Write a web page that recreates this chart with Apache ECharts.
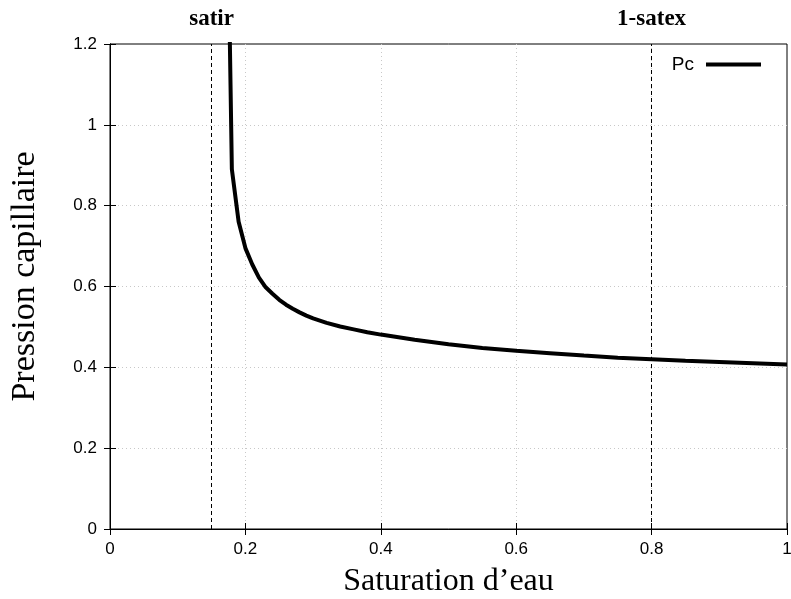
<!DOCTYPE html>
<html>
<head>
<meta charset="utf-8">
<script src="https://cdn.jsdelivr.net/npm/echarts@6/dist/echarts.min.js"></script>
<style>
  html, body { margin: 0; padding: 0; background: #fff; }
  #chart { width: 791px; height: 599px; }
</style>
</head>
<body>
<div id="chart"></div>
<script>
// Water saturation samples and capillary pressure
const saturation = [0.17, 0.18, 0.19, 0.20, 0.21, 0.22, 0.23, 0.24, 0.25, 0.26, 0.27, 0.28, 0.29, 0.30,
  0.32, 0.34, 0.36, 0.38, 0.40, 0.45, 0.50, 0.55, 0.60, 0.65, 0.70, 0.75, 0.80, 0.85, 0.90, 0.95, 1.00];
const pc = [1.95, 0.89, 0.76, 0.695, 0.655, 0.622, 0.598, 0.582, 0.567, 0.555, 0.545, 0.536, 0.528, 0.521,
  0.51, 0.501, 0.494, 0.487, 0.481, 0.468, 0.457, 0.448, 0.441, 0.435, 0.429, 0.424, 0.420, 0.416, 0.413, 0.410, 0.407];

// Residual saturation markers
const markerNames = ['satir', '1-satex'];
const markerValues = [0.15, 0.8];

const xTicks = { min: 0, max: 1, interval: 0.2 };
const yTicks = { min: 0, max: 1.2, interval: 0.2 };

const chart = echarts.init(document.getElementById('chart'), null, { renderer: 'canvas' });

const sansFont = 'Liberation Sans, Arial, sans-serif';
const serifFont = 'Liberation Serif, Times New Roman, serif';

const gridLine = {
  show: true, showMinLine: false, showMaxLine: false,
  lineStyle: { color: '#c8c8c8', type: [1, 3], width: 1 }
};
const tickIn = { show: true, inside: true, length: 6, lineStyle: { color: '#000', width: 1 } };
const blackLine = { show: true, lineStyle: { color: '#000', width: 1 } };

chart.setOption({
  backgroundColor: '#fff',
  animation: false,
  grid: {
    left: 110, right: 4, top: 44, bottom: 70,
    outerBoundsMode: 'none', containLabel: false,
    show: true, borderColor: '#000', borderWidth: 1
  },
  legend: {
    right: 25, top: 50,
    align: 'right',
    icon: 'rect',
    itemWidth: 55, itemHeight: 4,
    textStyle: { fontFamily: sansFont, fontSize: 19, color: '#000', padding: [0, 7, 0, 0] },
    itemStyle: { color: '#000' },
    data: ['Pc']
  },
  xAxis: [{
    type: 'value', ...xTicks,
    name: 'Saturation d\u2019eau', nameLocation: 'middle', nameGap: 37,
    nameTextStyle: { fontFamily: serifFont, fontSize: 32, color: '#000' },
    axisLine: blackLine,
    axisTick: tickIn,
    axisLabel: { fontFamily: sansFont, fontSize: 17, color: '#000', margin: 12 },
    splitLine: gridLine
  }, {
    type: 'value', ...xTicks, position: 'top',
    axisLine: blackLine,
    axisTick: tickIn, axisLabel: { show: false }, splitLine: { show: false }
  }],
  yAxis: [{
    type: 'value', ...yTicks,
    name: 'Pression capillaire', nameLocation: 'middle', nameGap: 68, nameRotate: 90,
    nameTextStyle: { fontFamily: serifFont, fontSize: 34, color: '#000', padding: [0, 0, 0, 20] },
    axisLine: blackLine,
    axisTick: tickIn,
    axisLabel: { fontFamily: sansFont, fontSize: 17, color: '#000', margin: 13 },
    splitLine: gridLine
  }, {
    type: 'value', ...yTicks, position: 'right',
    axisLine: blackLine,
    axisTick: tickIn, axisLabel: { show: false }, splitLine: { show: false }
  }],
  series: [{
    name: 'Pc',
    type: 'line',
    data: saturation.map((s, i) => [s, pc[i]]),
    showSymbol: false, symbol: 'none',
    clip: true,
    lineStyle: { color: '#000', width: 4 },
    itemStyle: { color: '#000' },
    markLine: {
      silent: true, symbol: 'none',
      lineStyle: { color: '#000', type: [4, 3], width: 1 },
      label: {
        show: true, position: 'end', distance: 13,
        formatter: p => p.name,
        fontFamily: serifFont, fontWeight: 'bold', fontSize: 23, color: '#000'
      },
      data: markerValues.map((v, i) => ({ name: markerNames[i], xAxis: v }))
    }
  }]
});
</script>
</body>
</html>
